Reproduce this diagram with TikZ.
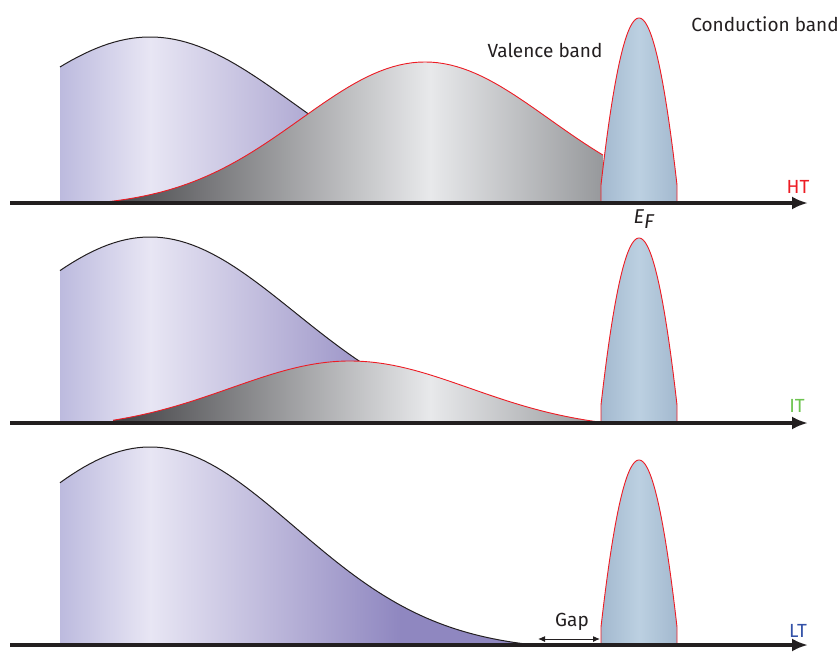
\documentclass[tikz,border=0pt]{standalone}
\usepackage{fontspec}
\setmainfont{Fira Sans}
\usetikzlibrary{arrows.meta}

\definecolor{inkdark}{RGB}{35,31,32}
\definecolor{bandred}{RGB}{237,28,36}
\definecolor{lavleft}{RGB}{188,186,222}
\definecolor{lavlight}{RGB}{232,230,244}
\definecolor{lavdark}{RGB}{143,135,192}
\definecolor{greydark}{RGB}{65,65,68}
\definecolor{greylight}{RGB}{232,233,235}
\definecolor{greyright}{RGB}{150,152,155}
\definecolor{condedge}{RGB}{163,185,207}
\definecolor{condmid}{RGB}{188,208,225}
\definecolor{htred}{RGB}{237,28,36}
\definecolor{itgreen}{RGB}{110,196,80}
\definecolor{ltblue}{RGB}{52,82,168}

\tikzset{
  energyaxis/.style={draw=inkdark, line width=3.6pt, -{Latex[length=16pt,width=13pt]}},
  txt/.style={font=\fontsize{19}{22}\selectfont, text=inkdark, inner sep=0pt},
  templabel/.style={font=\fontsize{19}{22}\selectfont, inner sep=0pt},
}

\begin{document}
\begin{tikzpicture}[x=1pt, y=-1pt]
  \useasboundingbox (0,0) rectangle (839,653);

  % occupied band, one per temperature
  \foreach \yb/\pk in {203/166, 423/186, 645/198} {
    \begin{scope}
      \clip (60,\yb) -- plot[domain=60:535, samples=80] (\x, {\yb-\pk*(exp(-((\x-150)/205)^2)-0.03)/0.97}) -- (535,\yb) -- cycle;
      \shade[left color=lavleft, right color=lavlight] (59,\yb-220) rectangle (150.5,\yb);
      \shade[left color=lavlight, right color=lavdark] (150,\yb-220) rectangle (400.5,\yb);
      \fill[lavdark] (400,\yb-220) rectangle (561,\yb);
    \end{scope}
    \draw[inkdark, line width=1pt] plot[domain=60:535, samples=80] (\x, {\yb-\pk*(exp(-((\x-150)/205)^2)-0.03)/0.97});
  }

  % valence band (HT and IT only)
  \foreach \yb/\ctr/\sig/\pk/\lo/\hi/\off in {203/425/176/141/100/603/0.03, 423/350/169/62/113/595/0.1} {
    \begin{scope}
      \clip (\lo,\yb) -- plot[domain=\lo:\hi, samples=80] (\x, {\yb-\pk*(exp(-((\x-\ctr)/\sig)^2)-\off)/(1-\off)}) -- (\hi,\yb) -- cycle;
      \shade[left color=greydark, right color=greylight] (\lo,\yb-160) rectangle (430.5,\yb);
      \shade[left color=greylight, right color=greyright] (430,\yb-160) rectangle (604,\yb);
    \end{scope}
    \draw[bandred, line width=0.9pt] plot[domain=\lo:\hi, samples=80] (\x, {\yb-\pk*(exp(-((\x-\ctr)/\sig)^2)-\off)/(1-\off)});
  }

  % conduction band
  \foreach \yb in {203, 423, 645} {
    \shadedraw[left color=condedge, right color=condedge, middle color=condmid, draw=bandred, line width=0.9pt]
      (601,\yb) -- plot[domain=601:677, samples=60] (\x, {\yb-185*(1-((\x-639)/40)^2)}) -- (677,\yb);
  }

  % energy axes
  \foreach \yb/\nm in {203/ht, 423/it, 645/lt} {
    \coordinate (\nm-start) at (10,\yb);
    \coordinate (\nm-end) at (808,\yb);
    \draw[energyaxis] (\nm-start) -- (\nm-end);
  }

  \node[txt] (cband) at (765,24) {Conduction band};
  \node[txt] (vband) at (545,50) {Valence band};
  \node[txt, font=\fontsize{20}{22}\selectfont] (ef) at (644,219) {\textit{E}\raisebox{-5pt}{\textit{F}}};

  \node[templabel, text=htred] (ht) at (798,187) {HT};
  \node[templabel, text=itgreen] (it) at (797,406) {IT};
  \node[templabel, text=ltblue] (lt) at (798,631) {LT};

  \node[txt] (gap) at (572,622) {Gap};
  \coordinate (gapL) at (538,639);
  \coordinate (gapR) at (600,639);
  \draw[inkdark, line width=1pt, {Latex[length=7pt,width=6pt]}-{Latex[length=7pt,width=6pt]}] (gapL) -- (gapR);
\end{tikzpicture}
\end{document}
